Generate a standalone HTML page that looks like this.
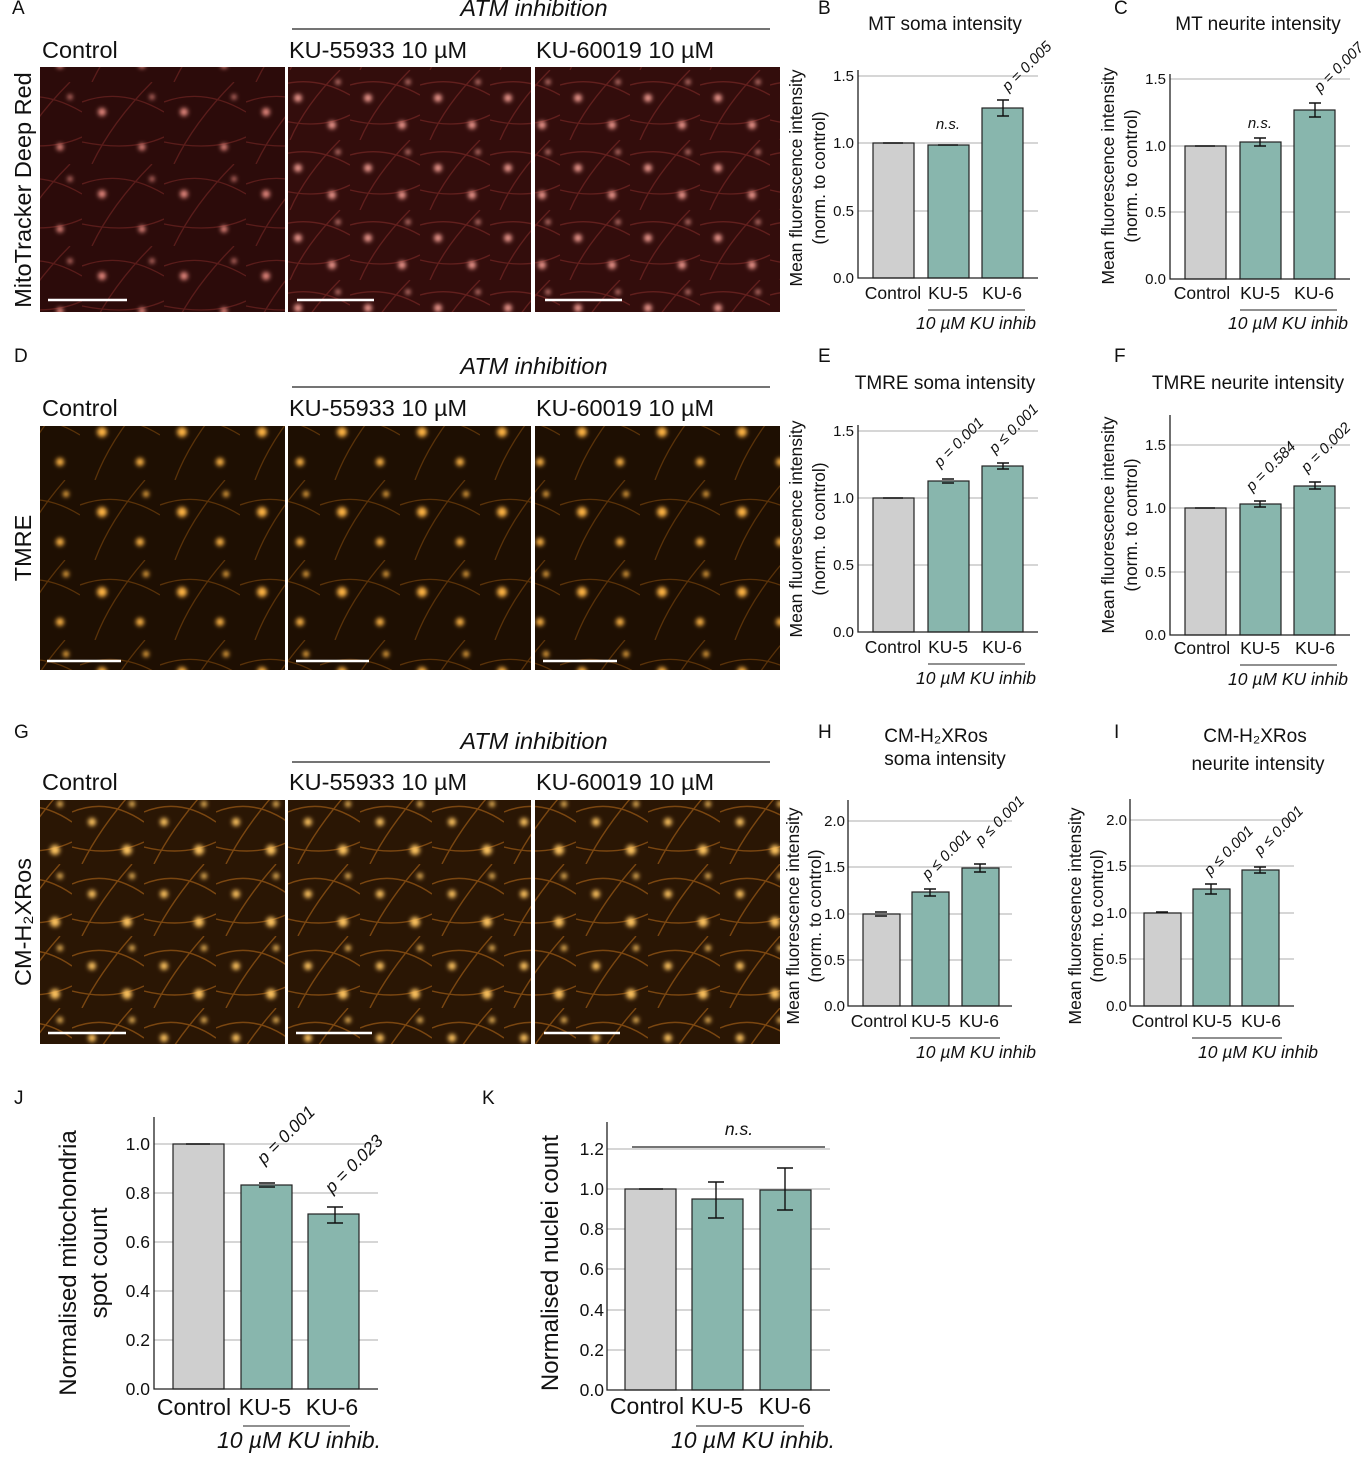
<!DOCTYPE html>
<html><head><meta charset="utf-8"><style>
html,body{margin:0;padding:0;background:#fff}
svg{display:block}
text{font-family:"Liberation Sans","DejaVu Sans",sans-serif;fill:#111}
.t{font-size:15px}.l{font-size:17.5px}.ti{font-size:19px}.it{font-style:italic}
.g{stroke:#bdbdbd;stroke-width:1.2}.ax{stroke:#222;stroke-width:1.3;fill:none}
.c{fill:#cfcfcf;stroke:#222;stroke-width:1.2}.k{fill:#88b6ad;stroke:#222;stroke-width:1.2}
.e{stroke:#111;stroke-width:1.4;fill:none}
.big{font-size:23px}.by{font-size:24px}.hd{font-size:23.5px}
</style></head><body>
<svg width="1364" height="1480" viewBox="0 0 1364 1480" xmlns="http://www.w3.org/2000/svg">
<defs>
<filter id="bl" x="-50%" y="-50%" width="200%" height="200%"><feGaussianBlur stdDeviation="2.2"/></filter>
<pattern id="p1" width="82" height="82" patternUnits="userSpaceOnUse">
<rect width="82" height="82" fill="#2c0b0a"/>
<path d="M0 20 Q40 5 82 30 M10 82 Q30 40 70 0 M0 60 Q50 70 82 55" stroke="#5a1c1a" stroke-width="1.3" fill="none"/>
<g filter="url(#bl)" fill="#e88a80"><circle cx="20" cy="30" r="4"/><circle cx="60" cy="65" r="3.5"/><circle cx="70" cy="15" r="2.5"/></g>
</pattern>
<pattern id="p1b" width="70" height="70" patternUnits="userSpaceOnUse">
<rect width="70" height="70" fill="#330d0c"/>
<path d="M0 15 Q35 5 70 25 M10 70 Q25 35 60 0 M0 50 Q40 60 70 45" stroke="#621f1d" stroke-width="1.3" fill="none"/>
<g filter="url(#bl)" fill="#f09a90"><circle cx="18" cy="28" r="4"/><circle cx="52" cy="55" r="4"/><circle cx="58" cy="12" r="2.5"/></g>
</pattern>
<pattern id="p2" width="80" height="80" patternUnits="userSpaceOnUse">
<rect width="80" height="80" fill="#1e0f02"/>
<path d="M0 25 Q40 10 80 35 M15 80 Q30 40 65 0" stroke="#5a3208" stroke-width="1.3" fill="none"/>
<g filter="url(#bl)" fill="#ffb545"><circle cx="22" cy="32" r="5"/><circle cx="60" cy="62" r="4"/><circle cx="66" cy="14" r="3"/></g>
</pattern>
<pattern id="p3" width="72" height="72" patternUnits="userSpaceOnUse">
<rect width="72" height="72" fill="#2a1604"/>
<path d="M0 20 Q36 5 72 30 M10 72 Q28 36 60 0 M0 55 Q40 65 72 50" stroke="#7a4610" stroke-width="1.4" fill="none"/>
<g filter="url(#bl)" fill="#ffc560"><circle cx="20" cy="30" r="4"/><circle cx="55" cy="58" r="5"/><circle cx="60" cy="12" r="3"/></g>
</pattern>
</defs>

<text x="12" y="14" class="ti">A</text><text x="818" y="14" class="ti">B</text><text x="1114" y="14" class="ti">C</text>
<text x="14" y="362" class="ti">D</text><text x="818" y="362" class="ti">E</text><text x="1114" y="362" class="ti">F</text>
<text x="14" y="738" class="ti">G</text><text x="818" y="738" class="ti">H</text><text x="1114" y="738" class="ti">I</text>
<text x="14" y="1104" class="ti">J</text><text x="482" y="1104" class="ti">K</text>

<g>
<text x="534" y="16" text-anchor="middle" class="hd it">ATM inhibition</text>
<line x1="292" y1="29" x2="770" y2="29" stroke="#222" stroke-width="1.2"/>
<text x="42" y="58" class="hd">Control</text><text x="289" y="58" class="hd">KU-55933 10 µM</text><text x="536" y="58" class="hd">KU-60019 10 µM</text>
<text x="534" y="374" text-anchor="middle" class="hd it">ATM inhibition</text>
<line x1="292" y1="387" x2="770" y2="387" stroke="#222" stroke-width="1.2"/>
<text x="42" y="416" class="hd">Control</text><text x="289" y="416" class="hd">KU-55933 10 µM</text><text x="536" y="416" class="hd">KU-60019 10 µM</text>
<text x="534" y="749" text-anchor="middle" class="hd it">ATM inhibition</text>
<line x1="292" y1="762" x2="770" y2="762" stroke="#222" stroke-width="1.2"/>
<text x="42" y="790" class="hd">Control</text><text x="289" y="790" class="hd">KU-55933 10 µM</text><text x="536" y="790" class="hd">KU-60019 10 µM</text>
</g>
<text transform="translate(31,190) rotate(-90)" text-anchor="middle" class="hd">MitoTracker Deep Red</text>
<text transform="translate(31,548) rotate(-90)" text-anchor="middle" class="hd">TMRE</text>
<text transform="translate(31,922) rotate(-90)" text-anchor="middle" class="hd">CM-H₂XRos</text>

<rect x="40" y="67" width="245" height="245" fill="url(#p1)"/>
<rect x="288" y="67" width="243" height="245" fill="url(#p1b)"/>
<rect x="535" y="67" width="245" height="245" fill="url(#p1b)"/>
<rect x="40" y="426" width="245" height="244" fill="url(#p2)"/>
<rect x="288" y="426" width="243" height="244" fill="url(#p2)"/>
<rect x="535" y="426" width="245" height="244" fill="url(#p2)"/>
<rect x="40" y="800" width="245" height="244" fill="url(#p3)"/>
<rect x="288" y="800" width="243" height="244" fill="url(#p3)"/>
<rect x="535" y="800" width="245" height="244" fill="url(#p3)"/>
<g stroke="#fff" stroke-width="2.5">
<line x1="48" y1="300" x2="127" y2="300"/><line x1="297" y1="300" x2="374" y2="300"/><line x1="545" y1="300" x2="622" y2="300"/>
<line x1="47" y1="661" x2="121" y2="661"/><line x1="296" y1="661" x2="369" y2="661"/><line x1="543" y1="661" x2="617" y2="661"/>
<line x1="48" y1="1033" x2="126" y2="1033"/><line x1="296" y1="1033" x2="372" y2="1033"/><line x1="544" y1="1033" x2="620" y2="1033"/>
</g>

<!-- B -->
<text x="945" y="30" text-anchor="middle" class="ti">MT soma intensity</text>
<g transform="translate(858,278)">
<line class="g" x1="0" y1="-202" x2="180" y2="-202"/><line class="g" x1="0" y1="-135" x2="180" y2="-135"/><line class="g" x1="0" y1="-67" x2="180" y2="-67"/>
<text class="t" x="-4" y="-197" text-anchor="end">1.5</text><text class="t" x="-4" y="-130" text-anchor="end">1.0</text><text class="t" x="-4" y="-62" text-anchor="end">0.5</text><text class="t" x="-4" y="5" text-anchor="end">0.0</text>
<rect class="c" x="15" y="-135" width="41" height="135"/><rect class="k" x="70" y="-133" width="41" height="133"/><rect class="k" x="124" y="-170" width="41" height="170"/>
<path class="e" d="M139 -178H151M145 -178V-162M139 -162H151M80 -133H100M25 -135H45"/>
<path class="ax" d="M0 -208V0H180"/>
<text class="t it" x="90" y="-149" text-anchor="middle">n.s.</text>
<text class="t it" transform="translate(150,-186) rotate(-45)">p = 0.005</text>
<text class="l" x="35" y="21" text-anchor="middle">Control</text><text class="l" x="90" y="21" text-anchor="middle">KU-5</text><text class="l" x="144" y="21" text-anchor="middle">KU-6</text>
<line x1="70" y1="32" x2="167" y2="32" stroke="#222"/>
<text class="l it" x="118" y="51" text-anchor="middle">10 µM KU inhib</text>
<text class="l" transform="translate(-56,-100) rotate(-90)" text-anchor="middle">Mean fluorescence intensity</text>
<text class="l" transform="translate(-33,-100) rotate(-90)" text-anchor="middle">(norm. to control)</text>
</g>

<!-- C -->
<text x="1258" y="30" text-anchor="middle" class="ti">MT neurite intensity</text>
<g transform="translate(1170,279)">
<line class="g" x1="0" y1="-200" x2="180" y2="-200"/><line class="g" x1="0" y1="-133" x2="180" y2="-133"/><line class="g" x1="0" y1="-67" x2="180" y2="-67"/>
<text class="t" x="-4" y="-195" text-anchor="end">1.5</text><text class="t" x="-4" y="-128" text-anchor="end">1.0</text><text class="t" x="-4" y="-62" text-anchor="end">0.5</text><text class="t" x="-4" y="5" text-anchor="end">0.0</text>
<rect class="c" x="15" y="-133" width="41" height="133"/><rect class="k" x="70" y="-137" width="41" height="137"/><rect class="k" x="124" y="-169" width="41" height="169"/>
<path class="e" d="M84 -141H96M90 -141V-133M84 -133H96M139 -176H151M145 -176V-162M139 -162H151M25 -133H45"/>
<path class="ax" d="M0 -205V0H180"/>
<text class="t it" x="90" y="-151" text-anchor="middle">n.s.</text>
<text class="t it" transform="translate(150,-186) rotate(-45)">p = 0.007</text>
<text class="l" x="32" y="20" text-anchor="middle">Control</text><text class="l" x="90" y="20" text-anchor="middle">KU-5</text><text class="l" x="144" y="20" text-anchor="middle">KU-6</text>
<line x1="70" y1="31" x2="167" y2="31" stroke="#222"/>
<text class="l it" x="118" y="50" text-anchor="middle">10 µM KU inhib</text>
<text class="l" transform="translate(-56,-103) rotate(-90)" text-anchor="middle">Mean fluorescence intensity</text>
<text class="l" transform="translate(-33,-103) rotate(-90)" text-anchor="middle">(norm. to control)</text>
</g>

<!-- E -->
<text x="945" y="389" text-anchor="middle" class="ti">TMRE soma intensity</text>
<g transform="translate(858,632)">
<line class="g" x1="0" y1="-201" x2="180" y2="-201"/><line class="g" x1="0" y1="-134" x2="180" y2="-134"/><line class="g" x1="0" y1="-67" x2="180" y2="-67"/>
<text class="t" x="-4" y="-196" text-anchor="end">1.5</text><text class="t" x="-4" y="-129" text-anchor="end">1.0</text><text class="t" x="-4" y="-62" text-anchor="end">0.5</text><text class="t" x="-4" y="5" text-anchor="end">0.0</text>
<rect class="c" x="15" y="-134" width="41" height="134"/><rect class="k" x="70" y="-151" width="41" height="151"/><rect class="k" x="124" y="-166" width="41" height="166"/>
<path class="e" d="M84 -153H96M84 -149H96M139 -169H151M145 -169V-163M139 -163H151M25 -134H45"/>
<path class="ax" d="M0 -207V0H180"/>
<text class="t it" transform="translate(82,-164) rotate(-45)">p = 0.001</text>
<text class="t it" transform="translate(137,-178) rotate(-45)">p ≤ 0.001</text>
<text class="l" x="35" y="21" text-anchor="middle">Control</text><text class="l" x="90" y="21" text-anchor="middle">KU-5</text><text class="l" x="144" y="21" text-anchor="middle">KU-6</text>
<line x1="70" y1="32" x2="167" y2="32" stroke="#222"/>
<text class="l it" x="118" y="52" text-anchor="middle">10 µM KU inhib</text>
<text class="l" transform="translate(-56,-103) rotate(-90)" text-anchor="middle">Mean fluorescence intensity</text>
<text class="l" transform="translate(-33,-103) rotate(-90)" text-anchor="middle">(norm. to control)</text>
</g>

<!-- F -->
<text x="1248" y="389" text-anchor="middle" class="ti">TMRE neurite intensity</text>
<g transform="translate(1170,635)">
<line class="g" x1="0" y1="-190" x2="180" y2="-190"/><line class="g" x1="0" y1="-127" x2="180" y2="-127"/><line class="g" x1="0" y1="-63" x2="180" y2="-63"/>
<text class="t" x="-4" y="-185" text-anchor="end">1.5</text><text class="t" x="-4" y="-122" text-anchor="end">1.0</text><text class="t" x="-4" y="-58" text-anchor="end">0.5</text><text class="t" x="-4" y="5" text-anchor="end">0.0</text>
<rect class="c" x="15" y="-127" width="41" height="127"/><rect class="k" x="70" y="-131" width="41" height="131"/><rect class="k" x="124" y="-149" width="41" height="149"/>
<path class="e" d="M84 -134H96M90 -134V-128M84 -128H96M139 -153H151M145 -153V-146M139 -146H151M25 -127H45"/>
<path class="ax" d="M0 -220V0H180"/>
<text class="t it" transform="translate(82,-143) rotate(-45)">p = 0.584</text>
<text class="t it" transform="translate(137,-162) rotate(-45)">p = 0.002</text>
<text class="l" x="32" y="19" text-anchor="middle">Control</text><text class="l" x="90" y="19" text-anchor="middle">KU-5</text><text class="l" x="145" y="19" text-anchor="middle">KU-6</text>
<line x1="70" y1="30" x2="167" y2="30" stroke="#222"/>
<text class="l it" x="118" y="50" text-anchor="middle">10 µM KU inhib</text>
<text class="l" transform="translate(-56,-110) rotate(-90)" text-anchor="middle">Mean fluorescence intensity</text>
<text class="l" transform="translate(-33,-110) rotate(-90)" text-anchor="middle">(norm. to control)</text>
</g>

<!-- H -->
<text x="936" y="742" text-anchor="middle" class="ti">CM-H₂XRos</text>
<text x="945" y="765" text-anchor="middle" class="ti">soma intensity</text>
<g transform="translate(848,1006)">
<line class="g" x1="0" y1="-185" x2="164" y2="-185"/><line class="g" x1="0" y1="-139" x2="164" y2="-139"/><line class="g" x1="0" y1="-92" x2="164" y2="-92"/><line class="g" x1="0" y1="-46" x2="164" y2="-46"/>
<text class="t" x="-3" y="-180" text-anchor="end">2.0</text><text class="t" x="-3" y="-134" text-anchor="end">1.5</text><text class="t" x="-3" y="-87" text-anchor="end">1.0</text><text class="t" x="-3" y="-41" text-anchor="end">0.5</text><text class="t" x="-3" y="5" text-anchor="end">0.0</text>
<rect class="c" x="15" y="-92" width="37" height="92"/><rect class="k" x="64" y="-114" width="37" height="114"/><rect class="k" x="114" y="-138" width="37" height="138"/>
<path class="e" d="M27 -94H39M27 -90H39M76 -117H88M82 -117V-110M76 -110H88M126 -142H138M132 -142V-134M126 -134H138"/>
<path class="ax" d="M0 -206V0H164"/>
<text class="t it" transform="translate(80,-126) rotate(-45)">p ≤ 0.001</text>
<text class="t it" transform="translate(133,-160) rotate(-45)">p ≤ 0.001</text>
<text class="l" x="31" y="21" text-anchor="middle">Control</text><text class="l" x="83" y="21" text-anchor="middle">KU-5</text><text class="l" x="131" y="21" text-anchor="middle">KU-6</text>
<line x1="62" y1="32" x2="152" y2="32" stroke="#222"/>
<text class="l it" x="128" y="52" text-anchor="middle">10 µM KU inhib</text>
<text class="l" transform="translate(-49,-90) rotate(-90)" text-anchor="middle">Mean fluorescence intensity</text>
<text class="l" transform="translate(-27,-90) rotate(-90)" text-anchor="middle">(norm. to control)</text>
</g>

<!-- I -->
<text x="1255" y="742" text-anchor="middle" class="ti">CM-H₂XRos</text>
<text x="1258" y="770" text-anchor="middle" class="ti">neurite intensity</text>
<g transform="translate(1130,1006)">
<line class="g" x1="0" y1="-186" x2="164" y2="-186"/><line class="g" x1="0" y1="-140" x2="164" y2="-140"/><line class="g" x1="0" y1="-93" x2="164" y2="-93"/><line class="g" x1="0" y1="-47" x2="164" y2="-47"/>
<text class="t" x="-3" y="-181" text-anchor="end">2.0</text><text class="t" x="-3" y="-135" text-anchor="end">1.5</text><text class="t" x="-3" y="-88" text-anchor="end">1.0</text><text class="t" x="-3" y="-42" text-anchor="end">0.5</text><text class="t" x="-3" y="5" text-anchor="end">0.0</text>
<rect class="c" x="14" y="-93" width="37" height="93"/><rect class="k" x="63" y="-117" width="37" height="117"/><rect class="k" x="112" y="-136" width="37" height="136"/>
<path class="e" d="M26 -94H38M75 -122H87M81 -122V-112M75 -112H87M124 -139H136M130 -139V-133M124 -133H136"/>
<path class="ax" d="M0 -207V0H164"/>
<text class="t it" transform="translate(80,-130) rotate(-45)">p ≤ 0.001</text>
<text class="t it" transform="translate(130,-150) rotate(-45)">p ≤ 0.001</text>
<text class="l" x="30" y="21" text-anchor="middle">Control</text><text class="l" x="82" y="21" text-anchor="middle">KU-5</text><text class="l" x="131" y="21" text-anchor="middle">KU-6</text>
<line x1="62" y1="32" x2="152" y2="32" stroke="#222"/>
<text class="l it" x="128" y="52" text-anchor="middle">10 µM KU inhib</text>
<text class="l" transform="translate(-49,-90) rotate(-90)" text-anchor="middle">Mean fluorescence intensity</text>
<text class="l" transform="translate(-27,-90) rotate(-90)" text-anchor="middle">(norm. to control)</text>
</g>

<!-- J -->
<g transform="translate(154,1389)">
<line class="g" x1="0" y1="-245" x2="224" y2="-245"/><line class="g" x1="0" y1="-196" x2="224" y2="-196"/><line class="g" x1="0" y1="-147" x2="224" y2="-147"/><line class="g" x1="0" y1="-98" x2="224" y2="-98"/><line class="g" x1="0" y1="-49" x2="224" y2="-49"/>
<text class="l" x="-4" y="-239" text-anchor="end">1.0</text><text class="l" x="-4" y="-190" text-anchor="end">0.8</text><text class="l" x="-4" y="-141" text-anchor="end">0.6</text><text class="l" x="-4" y="-92" text-anchor="end">0.4</text><text class="l" x="-4" y="-43" text-anchor="end">0.2</text><text class="l" x="-4" y="6" text-anchor="end">0.0</text>
<rect class="c" x="19" y="-245" width="51" height="245"/><rect class="k" x="87" y="-204" width="51" height="204"/><rect class="k" x="154" y="-175" width="51" height="175"/>
<path class="e" d="M105 -206H121M105 -202H121M173 -182H189M181 -182V-166M173 -166H189M32 -245H56"/>
<path class="ax" d="M0 -272V0H224"/>
<text class="l it" transform="translate(110,-224) rotate(-45)">p = 0.001</text>
<text class="l it" transform="translate(178,-195) rotate(-45)">p = 0.023</text>
<text class="big" x="40" y="26" text-anchor="middle">Control</text><text class="big" x="111" y="26" text-anchor="middle">KU-5</text><text class="big" x="178" y="26" text-anchor="middle">KU-6</text>
<line x1="89" y1="37" x2="196" y2="37" stroke="#222"/>
<text class="big it" x="145" y="59" text-anchor="middle">10 µM KU inhib.</text>
<text class="by" transform="translate(-78,-126) rotate(-90)" text-anchor="middle">Normalised mitochondria</text>
<text class="by" transform="translate(-47,-126) rotate(-90)" text-anchor="middle">spot count</text>
</g>

<!-- K -->
<g transform="translate(607,1390)">
<line class="g" x1="0" y1="-241" x2="223" y2="-241"/><line class="g" x1="0" y1="-201" x2="223" y2="-201"/><line class="g" x1="0" y1="-161" x2="223" y2="-161"/><line class="g" x1="0" y1="-121" x2="223" y2="-121"/><line class="g" x1="0" y1="-80" x2="223" y2="-80"/><line class="g" x1="0" y1="-40" x2="223" y2="-40"/>
<text class="l" x="-3" y="-235" text-anchor="end">1.2</text><text class="l" x="-3" y="-195" text-anchor="end">1.0</text><text class="l" x="-3" y="-155" text-anchor="end">0.8</text><text class="l" x="-3" y="-115" text-anchor="end">0.6</text><text class="l" x="-3" y="-74" text-anchor="end">0.4</text><text class="l" x="-3" y="-34" text-anchor="end">0.2</text><text class="l" x="-3" y="6" text-anchor="end">0.0</text>
<rect class="c" x="18" y="-201" width="51" height="201"/><rect class="k" x="85" y="-191" width="51" height="191"/><rect class="k" x="153" y="-200" width="51" height="200"/>
<path class="e" d="M101 -208H117M109 -208V-172M101 -172H117M170 -222H186M178 -222V-180M170 -180H186M32 -201H56"/>
<line x1="25" y1="-243" x2="218" y2="-243" stroke="#222" stroke-width="1.3"/>
<path class="ax" d="M0 -268V0H223"/>
<text class="l it" x="132" y="-255" text-anchor="middle">n.s.</text>
<text class="big" x="40" y="24" text-anchor="middle">Control</text><text class="big" x="110" y="24" text-anchor="middle">KU-5</text><text class="big" x="178" y="24" text-anchor="middle">KU-6</text>
<line x1="89" y1="36" x2="197" y2="36" stroke="#222"/>
<text class="big it" x="146" y="58" text-anchor="middle">10 µM KU inhib.</text>
<text class="by" transform="translate(-49,-127) rotate(-90)" text-anchor="middle">Normalised nuclei count</text>
</g>
</svg>
</body></html>
